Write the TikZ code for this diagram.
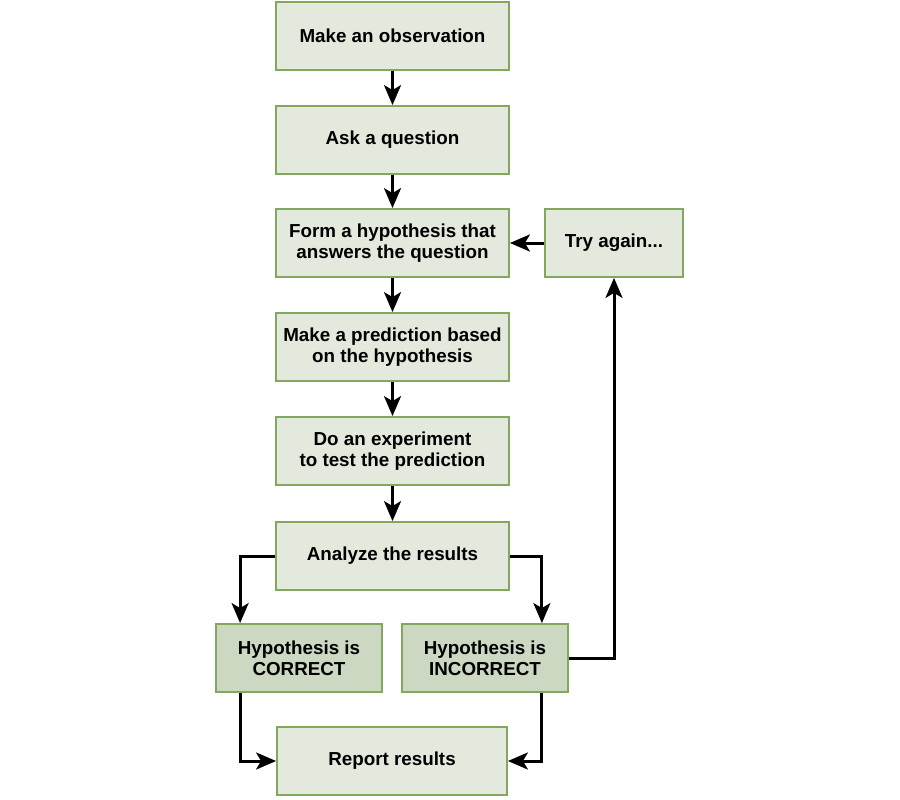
\documentclass[tikz,border=0pt]{standalone}
\usepackage{fontspec}
\setmainfont{Liberation Sans}
\usetikzlibrary{arrows.meta, positioning, calc}

\definecolor{boxfill}{HTML}{E4E9DD}
\definecolor{boxline}{HTML}{82A85E}
\definecolor{resfill}{HTML}{CCD8C2}

\tikzset{
  stepbox/.style={draw=boxline, line width=1.8pt, fill=boxfill, minimum width=233pt, minimum height=68pt,
    align=center, inner sep=0pt, font=\bfseries\fontsize{18.8}{21}\selectfont},
  resultbox/.style={stepbox, fill=resfill, minimum width=166pt},
  flow/.style={line width=3pt, -{Stealth[length=20pt, width=17pt, inset=5pt]}}
}

\begin{document}
\begin{tikzpicture}[x=1pt,y=-1pt]
	\useasboundingbox (0,0) rectangle (900,800);

	% main steps
	\node[stepbox] (observe) at (392.5,36) {Make an observation};
	\node[stepbox] (question) at (392.5,140) {Ask a question};
	\node[stepbox] (hypothesis) at (392.5,243) {Form a hypothesis that\\answers the question};
	\node[stepbox, minimum width=138pt] (retry) at (614,243) {Try again...};
	\node[stepbox] (predict) at (392.5,347) {Make a prediction based\\on the hypothesis};
	\node[stepbox] (experiment) at (392.5,451) {Do an experiment\\to test the prediction};
	\node[stepbox] (analyze) at (392.5,556) {Analyze the results};

	% outcomes
	\node[resultbox] (correct) at (299,658) {Hypothesis is\\CORRECT};
	\node[resultbox] (incorrect) at (485,658) {Hypothesis is\\INCORRECT};
	\node[stepbox, minimum width=230pt] (report) at (392,761) {Report results};

	\draw[flow] (observe) -- (question);
	\draw[flow] (question) -- (hypothesis);
	\draw[flow] (hypothesis) -- (predict);
	\draw[flow] (predict) -- (experiment);
	\draw[flow] (experiment) -- (analyze);
	\draw[flow] (analyze.west) -| ([xshift=25pt]correct.north west);
	\draw[flow] (analyze.east) -| ([xshift=-27pt]incorrect.north east);
	\draw[flow] ([xshift=25pt]correct.south west) |- (report.west);
	\draw[flow] ([xshift=-27pt]incorrect.south east) |- (report.east);
	\draw[flow] (incorrect.east) -| (retry.south);
	\draw[flow] (retry) -- (hypothesis);
\end{tikzpicture}
\end{document}
